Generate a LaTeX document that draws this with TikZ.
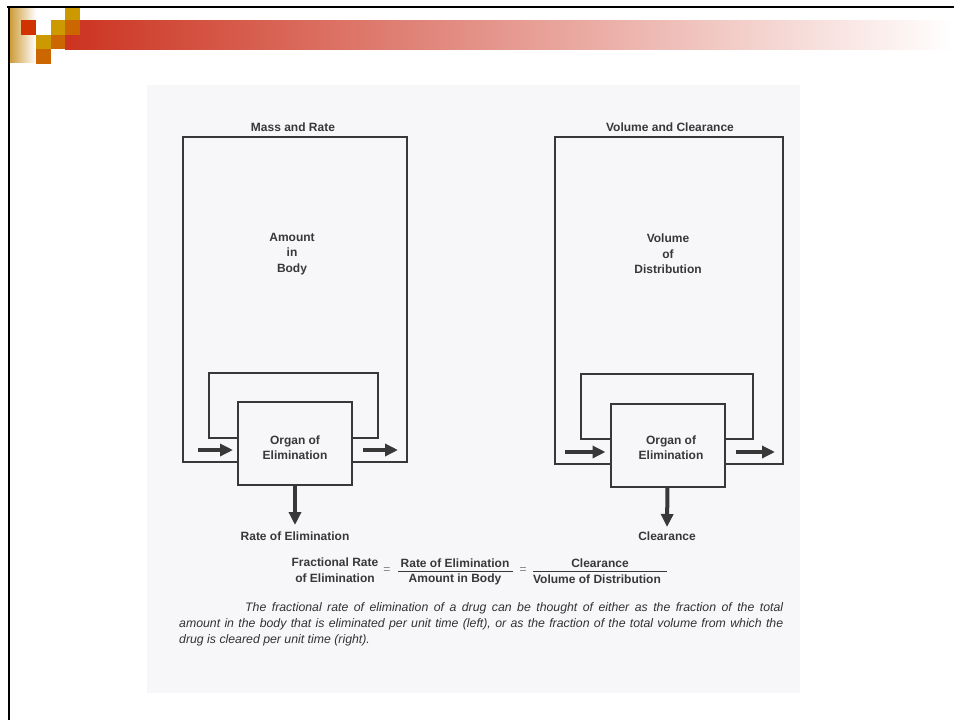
\documentclass[tikz,border=0pt]{standalone}
\usepackage{fontspec}
\setmainfont{Liberation Sans}
\usetikzlibrary{arrows.meta}
\definecolor{ink}{HTML}{383838}
\definecolor{scan}{HTML}{F7F7FA}
\definecolor{hdrred}{HTML}{CC3320}
\definecolor{hdrgold}{HTML}{CC9933}
\definecolor{sqgold}{HTML}{CC9900}
\definecolor{sqorange}{HTML}{CC6600}
\definecolor{sqred}{HTML}{D03300}
\tikzset{
  box/.style={draw=ink, line width=2pt},
  organ/.style={draw=ink, line width=2pt, fill=scan, minimum width=114pt, minimum height=83pt, inner sep=0pt},
  lbl/.style={font=\fontsize{12}{15.5}\selectfont\bfseries, text=ink, align=center, inner sep=0pt},
  flow/.style={draw=ink, line width=4pt, -{Triangle[length=13pt,width=12pt]}},
  eqs/.style={font=\fontsize{12}{14}\selectfont, text=gray, inner sep=0pt}
}
\begin{document}
\begin{tikzpicture}[x=1pt,y=-1pt]
\useasboundingbox (0,0) rectangle (954,720);
\fill[white] (0,0) rectangle (954,720);
% header decoration
\shade[left color=hdrgold, right color=white] (9,8) rectangle (36,62);
\shade[left color=hdrred, right color=white] (65,20) rectangle (954,49);
\fill[sqgold] (65,6) rectangle (80,20);
\fill[sqred] (21,20) rectangle (36,35);
\fill[sqgold] (50.5,20) rectangle (65,35);
\fill[sqorange] (65,20) rectangle (80,35);
\fill[sqgold] (36,35) rectangle (50.5,49);
\fill[sqorange] (50.5,35) rectangle (65,49);
\fill[sqorange] (36,49) rectangle (51,64);
\draw[line width=2.5pt] (7,7) -- (954,7);
\draw[line width=2pt] (8.5,6) -- (8.5,720);
% scanned area
\fill[scan] (147,85) rectangle (800,693);

% ---- left panel
\node[lbl] (tL) at (293,127) {Mass and Rate};
\node[lbl] (amt) at (292,254) {Amount\\in\\Body};
\node[organ] (oL) at (295,443.5) {};
\node[lbl, font=\fontsize{12}{15}\selectfont\bfseries] (oLt) at (295,447.5) {Organ of\\Elimination};
\draw[box] (oL.west |- 0,462) -| (183,137) -| (407,462) -- (oL.east |- 0,462);
\draw[box] (oL.west |- 0,438) -| (209,373) -| (378,438) -- (oL.east |- 0,438);
\coordinate (inL) at (198,450);
\coordinate (outL) at (398,450);
\coordinate (dnL) at (295,525);
\draw[flow, shorten >=4pt] (inL) -- (inL -| oL.west);
\draw[flow, shorten <=10pt] (outL -| oL.east) -- (outL);
\draw[flow] (oL.south) -- (dnL);
\node[lbl] (rL) at (295,536) {Rate of Elimination};

% ---- right panel
\node[lbl] (tR) at (670,127) {Volume and Clearance};
\node[lbl] (vol) at (668,254) {Volume\\of\\Distribution};
\node[organ] (oR) at (667.5,445) {};
\node[lbl, font=\fontsize{12}{15}\selectfont\bfseries] (oRt) at (671,448) {Organ of\\Elimination};
\draw[box] (oR.west |- 0,464) -| (555,137) -| (783,464) -- (oR.east |- 0,464);
\draw[box] (oR.west |- 0,439) -| (581,374) -| (753,439) -- (oR.east |- 0,439);
\coordinate (inR) at (565,452);
\coordinate (outR) at (775,452);
\coordinate (dnR) at (667,527);
\draw[flow, shorten >=4pt] (inR) -- (inR -| oR.west);
\draw[flow, shorten <=10pt] (outR -| oR.east) -- (outR);
\draw[flow] (oR.south) -- (dnR);
\node[lbl] (rR) at (667,536) {Clearance};

% ---- formula
\node[lbl, font=\fontsize{12}{16}\selectfont\bfseries] (frac) at (335,570) {Fractional Rate\\of Elimination};
\node[eqs] (eq1) at (387,571) {=};
\node[lbl] (n1) at (455,563) {Rate of Elimination};
\node[lbl] (d1) at (455,579) {Amount in Body};
\draw[ink, line width=0.8pt] (398,571) -- (513,571);
\node[eqs] (eq2) at (523,571) {=};
\node[lbl] (n2) at (600,563) {Clearance};
\node[lbl] (d2) at (597,579) {Volume of Distribution};
\draw[ink, line width=0.8pt] (533,571) -- (667,571);

% ---- caption
\node[anchor=north west, inner sep=0pt, text=ink!90!black, font=\fontsize{12.3}{16}\selectfont\itshape] (cap) at (179,602)
{\parbox{604pt}{\hspace*{66pt}The fractional rate of elimination of a drug can be thought of either as the fraction of the total\linebreak amount in the body that is eliminated per unit time (left), or as the fraction of the total volume from which the\linebreak drug is cleared per unit time (right).}};
\end{tikzpicture}
\end{document}
